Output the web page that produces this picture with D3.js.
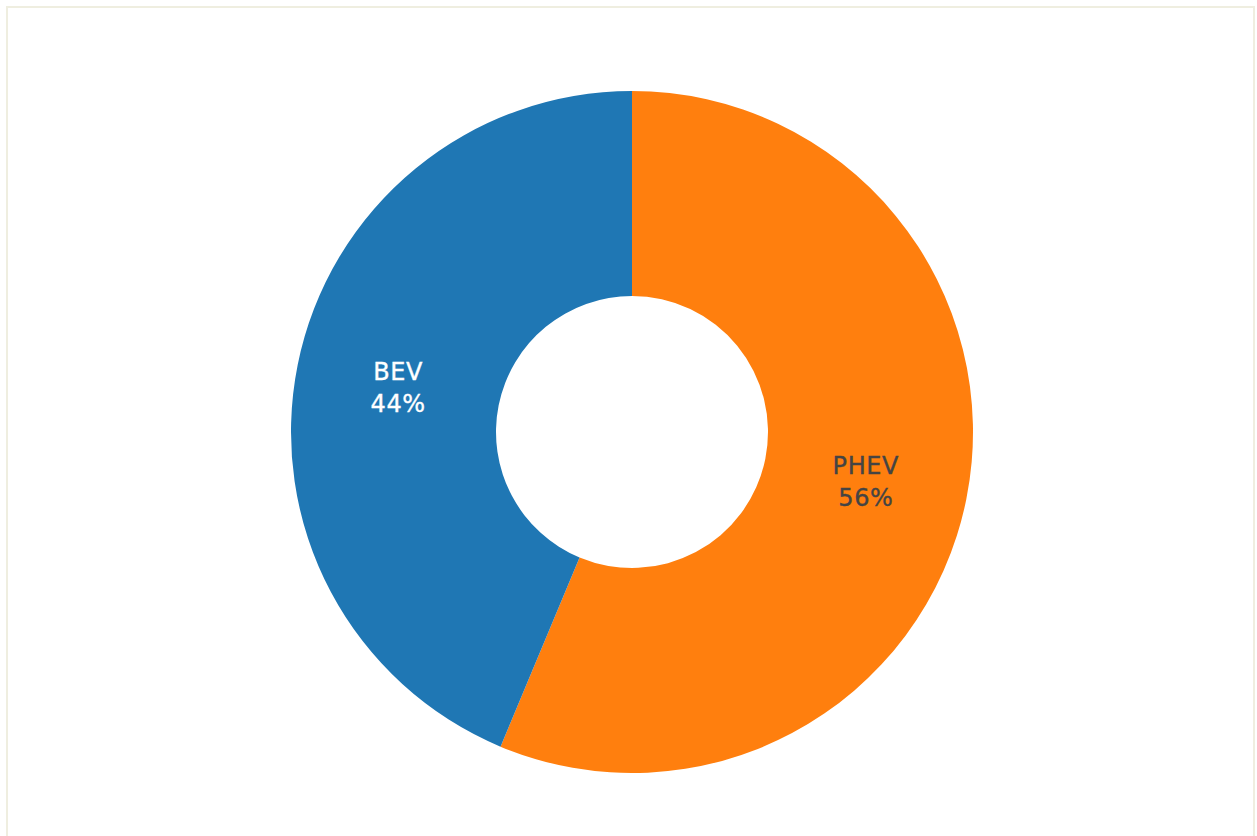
<!DOCTYPE html>
<html>
<head>
<meta charset="utf-8">
<script src="https://cdn.jsdelivr.net/npm/d3@7"></script>
<style>
  html, body { margin: 0; padding: 0; background: #fff; }
  #frame {
    position: absolute; left: 6px; top: 6px;
    width: 1249px; height: 840px;
    border: 2px solid #efeee0; box-sizing: border-box;
  }
</style>
</head>
<body>
<div id="frame"></div>
<script>
// data
var categories = ['PHEV', 'BEV'];
var values     = [56.3, 43.7];
var colors     = ['#ff7f0e', '#1f77b4'];
var textColors = ['#444444', '#ffffff'];

var W = 1257, H = 836;
var cx = 632, cy = 432;
var outerR = 341, innerR = 136;

var svg = d3.select('body').append('svg')
    .attr('width', W)
    .attr('height', H)
    .style('position', 'absolute')
    .style('left', 0).style('top', 0);

var data = categories.map(function(c, i) {
  return {name: c, value: values[i], color: colors[i], text: textColors[i]};
});

var total = d3.sum(values);

var pie = d3.pie()
    .value(function(d) { return d.value; })
    .sort(null);

var arc = d3.arc()
    .innerRadius(innerR)
    .outerRadius(outerR);

var g = svg.append('g')
    .attr('transform', 'translate(' + cx + ',' + cy + ')');

var slices = g.selectAll('g.slice')
  .data(pie(data))
  .enter().append('g')
    .attr('class', 'slice');

slices.append('path')
    .attr('d', arc)
    .attr('fill', function(d) { return d.data.color; });

// labels: name + percent, centred on arc centroid
var label = slices.append('text')
    .attr('transform', function(d) {
      var c = arc.centroid(d);
      return 'translate(' + c[0] + ',' + c[1] + ')';
    })
    .attr('text-anchor', 'middle')
    .attr('fill', function(d) { return d.data.text; })
    .attr('stroke', function(d) { return d.data.text; })
    .attr('stroke-width', 0.35)
    .style('font-family', '"DejaVu Sans", sans-serif')
    .style('font-size', '24px')
    .style('letter-spacing', '0.6px');

label.append('tspan')
    .attr('x', 0)
    .attr('y', -5)
    .text(function(d) { return d.data.name; });

label.append('tspan')
    .attr('x', 0)
    .attr('y', 27)
    .text(function(d) { return Math.round(d.data.value / total * 100) + '%'; });
</script>
</body>
</html>
